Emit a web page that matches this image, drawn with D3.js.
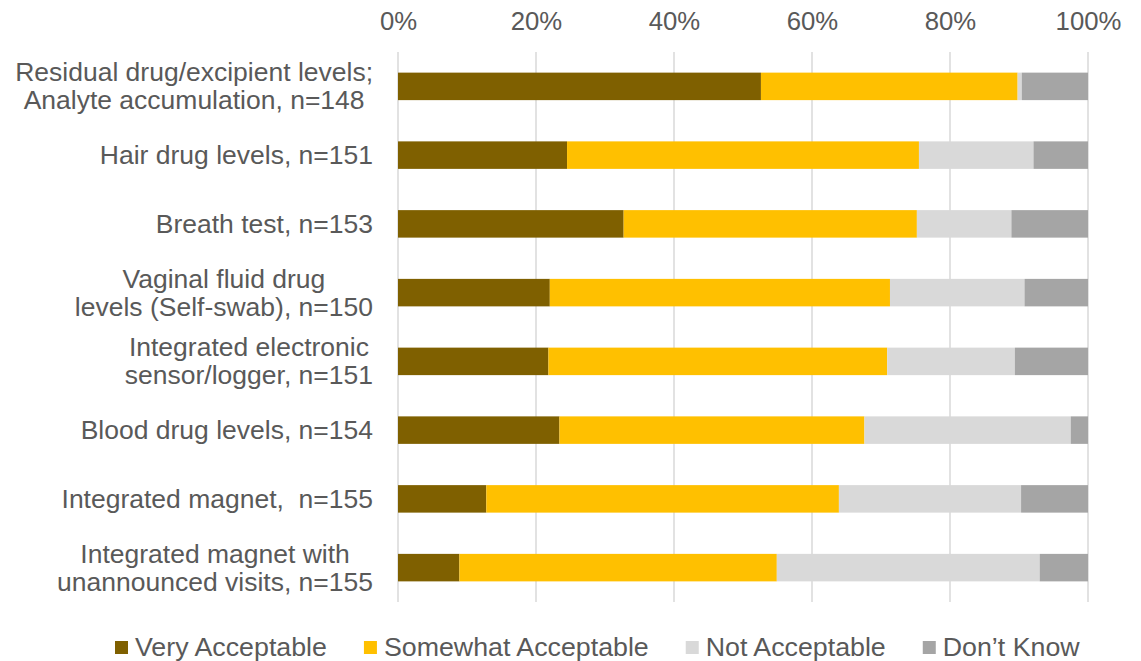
<!DOCTYPE html>
<html>
<head>
<meta charset="utf-8">
<script src="https://cdn.jsdelivr.net/npm/d3@7"></script>
<style>
  html, body { margin: 0; padding: 0; background: #fff; }
  svg { display: block; }
  text { font-family: "Liberation Sans", Arial, sans-serif; fill: #595959; }
</style>
</head>
<body>
<svg id="chart" width="1141" height="661"></svg>
<script>
// ---- data ----
const categories = [
  ["Residual drug/excipient levels;", "Analyte accumulation, n=148"],
  ["Hair drug levels, n=151"],
  ["Breath test, n=153"],
  ["Vaginal fluid drug", "levels (Self-swab), n=150"],
  ["Integrated electronic", "sensor/logger, n=151"],
  ["Blood drug levels, n=154"],
  ["Integrated magnet,  n=155"],
  ["Integrated magnet with", "unannounced visits, n=155"]
];
const seriesNames = ["Very Acceptable", "Somewhat Acceptable", "Not Acceptable", "Don\u2019t Know"];
const veryAcceptable     = [52.6, 24.5, 32.7, 22.0, 21.8, 23.4, 12.8, 8.9];
const somewhatAcceptable = [37.2, 51.0, 42.5, 49.3, 49.1, 44.2, 51.1, 46.0];
const notAcceptable      = [0.6, 16.6, 13.7, 19.5, 18.5, 29.9, 26.4, 38.1];
const dontKnow           = [9.6, 7.9, 11.1, 9.2, 10.6, 2.5, 9.7, 7.0];
const tickValues = [0, 20, 40, 60, 80, 100];
const colors = ["#7F6000", "#FFC000", "#D9D9D9", "#A5A5A5"];

// ---- build ----
const series = [veryAcceptable, somewhatAcceptable, notAcceptable, dontKnow];
const rows = categories.map((c, i) => {
  const o = { key: i };
  seriesNames.forEach((s, j) => o[s] = series[j][i]);
  return o;
});
const stacked = d3.stack().keys(seriesNames)(rows);

const svg = d3.select("#chart");
const x = d3.scaleLinear().domain([0, 100]).range([398, 1088]);
const y = d3.scaleBand().domain(d3.range(categories.length)).range([52, 602])
  .paddingInner(0.6).paddingOuter(0.3);

// gridlines
svg.append("g").selectAll("line").data(tickValues).join("line")
  .attr("x1", d => x(d)).attr("x2", d => x(d))
  .attr("y1", 52).attr("y2", 602)
  .attr("stroke", "#D9D9D9").attr("stroke-width", 1.5);

// top axis labels
const axis = d3.axisTop(x).tickValues(tickValues).tickFormat(d => d + "%").tickSize(0).tickPadding(0);
const ag = svg.append("g").attr("transform", "translate(0,30)").call(axis);
ag.select(".domain").remove();
ag.selectAll("text").attr("font-size", 25).attr("fill", "#595959")
  .style("font-family", '"Liberation Sans", Arial, sans-serif').attr("dy", 0)
  .attr("transform", "scale(1.03,1)");

// bars
svg.append("g").selectAll("g").data(stacked).join("g")
  .attr("fill", (d, i) => colors[i])
  .selectAll("rect").data(d => d).join("rect")
  .attr("x", d => x(d[0]))
  .attr("width", d => x(d[1]) - x(d[0]))
  .attr("y", (d, i) => y(i))
  .attr("height", y.bandwidth());

// category labels
const labelRight = 373;
const sx = 1.06;
const lg = svg.append("g").attr("transform", `translate(${labelRight},0) scale(${sx},1)`);
categories.forEach((lines, i) => {
  const cy = y(i) + y.bandwidth() / 2;
  const t = lg.append("text").attr("font-size", 25).attr("text-anchor", "middle")
    .attr("xml:space", "preserve").style("white-space", "pre");
  lines.forEach((ln, k) => {
    t.append("tspan").text(ln)
      .attr("y", cy + 9 + (k - (lines.length - 1) / 2) * 28);
  });
  let maxW = 0;
  t.selectAll("tspan").each(function () { maxW = Math.max(maxW, this.getComputedTextLength()); });
  t.selectAll("tspan").attr("x", -maxW / 2);
});

// legend
const leg = svg.append("g");
let lx = 115;
const lsx = 1.03;
seriesNames.forEach((s, i) => {
  leg.append("rect").attr("x", lx).attr("y", 641).attr("width", 13).attr("height", 13).attr("fill", colors[i]);
  const t = leg.append("text").attr("x", 0).attr("y", 656).attr("font-size", 26)
    .attr("transform", `translate(${lx + 20},0) scale(${lsx},1)`).text(s);
  lx += 20 + t.node().getComputedTextLength() * lsx + 37;
});
</script>
</body>
</html>
